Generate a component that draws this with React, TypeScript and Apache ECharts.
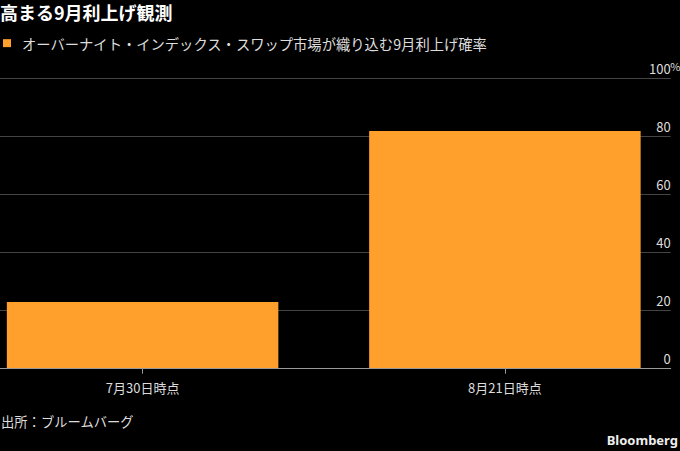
import React, { useEffect, useRef } from "react";
import * as echarts from "echarts";

const title = "高まる9月利上げ観測";
const seriesName = "オーバーナイト・インデックス・スワップ市場が織り込む9月利上げ確率";
const categories = ["7月30日時点", "8月21日時点"];
const values = [23, 82];
const yTicks = [0, 20, 40, 60, 80, 100];
const source = "出所：ブルームバーグ";
const brand = "Bloomberg";

const FONT = '"Noto Sans CJK JP", "Noto Sans", sans-serif';

export default function App() {
  const ref = useRef<HTMLDivElement>(null);
  useEffect(() => {
    if (!ref.current) return;
    const chart = echarts.init(ref.current, null, { renderer: "svg" });
    const yMin = yTicks[0];
    const yMax = yTicks[yTicks.length - 1];
    const yInterval = yTicks[1] - yTicks[0];
    chart.setOption({
      animation: false,
      backgroundColor: "#000000",
      textStyle: { fontFamily: FONT },
      title: {
        text: title,
        left: -5,
        top: -2,
        textStyle: { color: "#ffffff", fontSize: 18, fontWeight: "bold", fontFamily: FONT },
      },
      legend: {
        left: 3,
        top: 36,
        padding: 0,
        itemWidth: 8,
        itemHeight: 8,
        icon: "rect",
        data: [seriesName],
        textStyle: { color: "#dddddd", fontSize: 14.3, fontFamily: FONT, padding: [0, 0, 0, 6] },
      },
      grid: [
        { left: 142.6, right: 175.1, top: 78.7, bottom: 82.3 },
        { left: 0, right: 9.3, top: 78.7, bottom: 82.3 },
      ],
      xAxis: [
        {
          type: "category",
          gridIndex: 0,
          data: categories,
          boundaryGap: false,
          z: 6,
          axisLine: { show: false },
          axisTick: { length: 5, lineStyle: { color: "#9a9a9a" } },
          axisLabel: { color: "#dddddd", fontSize: 13, margin: 12, fontFamily: FONT },
        },
        {
          type: "category",
          gridIndex: 1,
          data: categories,
          z: 5,
          axisLine: { lineStyle: { color: "#9a9a9a", width: 1 } },
          axisTick: { show: false },
          axisLabel: { show: false },
        },
      ],
      yAxis: [
        { type: "value", gridIndex: 0, min: yMin, max: yMax, interval: yInterval, show: false },
        {
          type: "value",
          gridIndex: 1,
          position: "right",
          min: yMin,
          max: yMax,
          interval: yInterval,
          axisLine: { show: false },
          axisTick: { show: false },
          splitLine: { lineStyle: { color: "#444444", width: 1 } },
          axisLabel: {
            inside: true,
            margin: 0,
            color: "#dddddd",
            fontSize: 13,
            fontFamily: FONT,
            verticalAlign: "bottom",
            lineHeight: 13,
            padding: [0, 0, 4, 0],
          },
        },
      ],
      graphic: [
        {
          type: "text",
          left: 670.3,
          top: 60,
          style: { text: "%", fill: "#dddddd", font: `11px ${FONT}` },
        },
        {
          type: "text",
          left: 1,
          top: 415,
          style: { text: source, fill: "#dddddd", font: `13.3px ${FONT}` },
        },
        {
          type: "text",
          right: 2,
          top: 433,
          style: { text: brand, fill: "#eeeeee", font: `bold 13px "Noto Sans", sans-serif` },
        },
      ],
      series: [
        {
          name: seriesName,
          type: "bar",
          xAxisIndex: 0,
          yAxisIndex: 0,
          data: values,
          barWidth: 271.5,
          clip: false,
          itemStyle: { color: "#FFA02C" },
        },
      ],
    });
    return () => chart.dispose();
  }, []);
  return (
    <div
      ref={ref}
      style={{ position: "absolute", left: 0, top: 0, width: 680, height: 451 }}
    />
  );
}
